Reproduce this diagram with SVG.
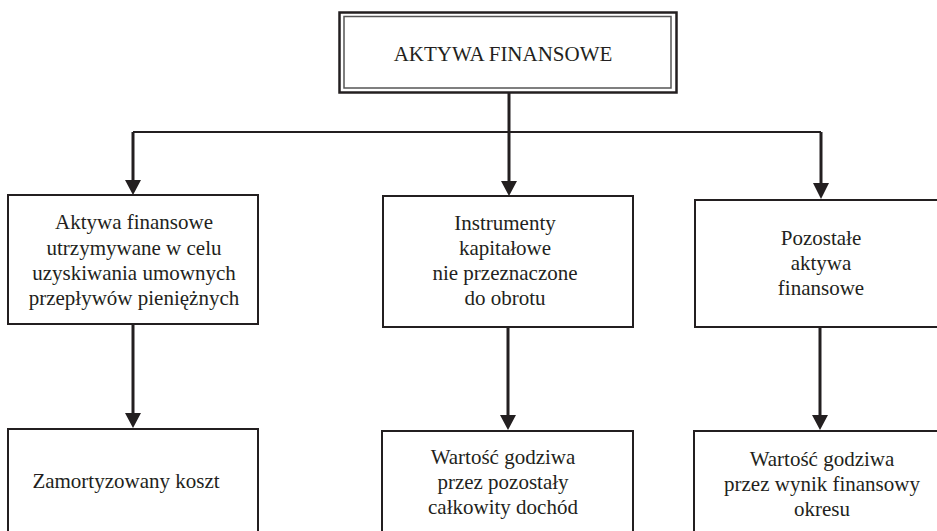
<svg xmlns="http://www.w3.org/2000/svg" width="937" height="531" viewBox="0 0 937 531">
<style>
.box{fill:#fff;stroke:#231f20;stroke-width:2}
.t{font-family:"Liberation Serif","Times New Roman",serif;font-size:21px;fill:#231f20;text-anchor:middle}
.arr{stroke:#231f20;stroke-width:3;fill:none}
.ln{stroke:#231f20;stroke-width:2;fill:none}
</style>
<defs>
<marker id="ah" markerUnits="userSpaceOnUse" markerWidth="16" markerHeight="16" viewBox="0 0 16 16" refX="8" refY="16" orient="auto-start-reverse">
<path d="M0,0 L16,0 L8,16 Z" fill="#231f20" transform="rotate(0)"/>
</marker>
</defs>
<rect width="937" height="531" fill="#fff"/>
<g id="connectors">
<line class="arr" x1="509" y1="92" x2="509" y2="132"/>
<path class="ln" d="M133,132 H821"/>
<path d="M133,132 V181" class="arr"/><path d="M125,180 L141,180 L133,195 Z" fill="#231f20"/>
<path d="M509,132 V182" class="arr"/><path d="M501,181 L517,181 L509,196 Z" fill="#231f20"/>
<path d="M821,132 V185" class="arr"/><path d="M813,183 L829,183 L821,199 Z" fill="#231f20"/>
<path d="M133,324 V415" class="arr"/><path d="M125,413 L141,413 L133,428 Z" fill="#231f20"/>
<path d="M508,327 V417" class="arr"/><path d="M500,415 L516,415 L508,430 Z" fill="#231f20"/>
<path d="M820,327 V417" class="arr"/><path d="M812,415 L828,415 L820,430 Z" fill="#231f20"/>
</g>
<g id="n0">
<rect x="339.5" y="12.5" width="337" height="80" fill="#fff" stroke="#231f20" stroke-width="2.5"/>
<rect x="344" y="16.5" width="327" height="71.5" fill="none" stroke="#555" stroke-width="1.5"/>
<text class="t" x="503" y="61">AKTYWA FINANSOWE</text>
</g>
<g id="n1">
<rect class="box" x="8" y="195" width="250" height="129"/>
<text class="t" x="134" y="229">Aktywa finansowe</text>
<text class="t" x="134" y="255">utrzymywane w celu</text>
<text class="t" x="134" y="280">uzyskiwania umownych</text>
<text class="t" x="134" y="305">przepływów pieniężnych</text>
</g>
<g id="n2">
<rect class="box" x="383" y="196" width="250" height="131"/>
<text class="t" x="505" y="230">Instrumenty</text>
<text class="t" x="505" y="255">kapitałowe</text>
<text class="t" x="505" y="280">nie przeznaczone</text>
<text class="t" x="505" y="305">do obrotu</text>
</g>
<g id="n3">
<rect class="box" x="695" y="200" width="250" height="127"/>
<text class="t" x="821" y="245">Pozostałe</text>
<text class="t" x="821" y="270">aktywa</text>
<text class="t" x="821" y="295">finansowe</text>
</g>
<g id="n4">
<rect class="box" x="8" y="429" width="250" height="110"/>
<text class="t" x="126" y="488">Zamortyzowany koszt</text>
</g>
<g id="n5">
<rect class="box" x="382" y="431" width="251" height="110"/>
<text class="t" x="503" y="464">Wartość godziwa</text>
<text class="t" x="503" y="489">przez pozostały</text>
<text class="t" x="503" y="514">całkowity dochód</text>
</g>
<g id="n6">
<rect class="box" x="694" y="431" width="251" height="110"/>
<text class="t" x="822" y="466">Wartość godziwa</text>
<text class="t" x="822" y="491">przez wynik finansowy</text>
<text class="t" x="822" y="516">okresu</text>
</g>
</svg>
